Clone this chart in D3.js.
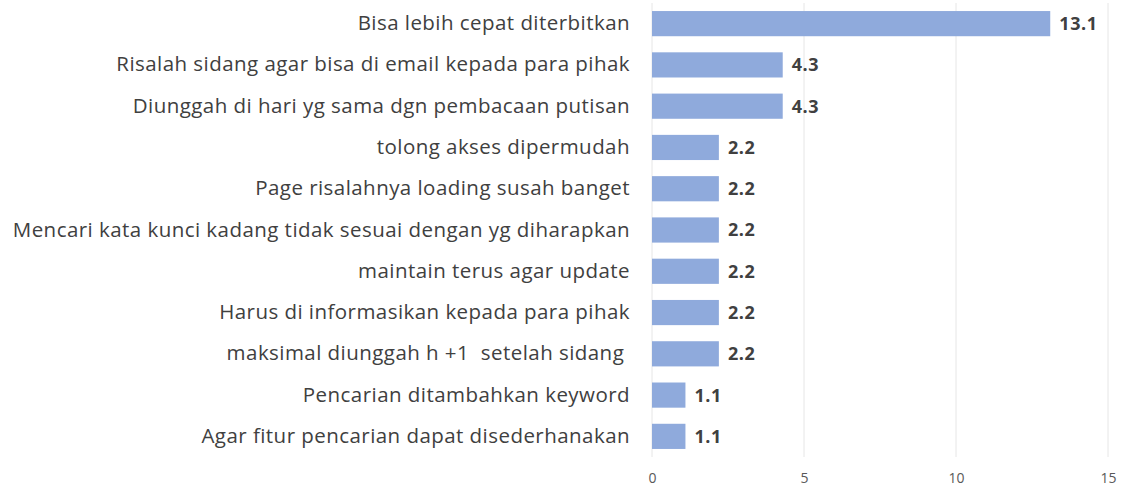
<!DOCTYPE html>
<html>
<head>
<meta charset="utf-8">
<script src="https://cdn.jsdelivr.net/npm/d3@7"></script>
<style>
  body { margin: 0; background: #fff; }
  svg { display: block; }
</style>
</head>
<body>
<div class="chart"></div>
<script>
// data
var categories = [
  "Bisa lebih cepat diterbitkan",
  "Risalah sidang agar bisa di email kepada para pihak",
  "Diunggah di hari yg sama dgn pembacaan putisan",
  "tolong akses dipermudah",
  "Page risalahnya loading susah banget",
  "Mencari kata kunci kadang tidak sesuai dengan yg diharapkan",
  "maintain terus agar update",
  "Harus di informasikan kepada para pihak",
  "maksimal diunggah h +1  setelah sidang ",
  "Pencarian ditambahkan keyword",
  "Agar fitur pencarian dapat disederhanakan"
];
var values = [13.1, 4.3, 4.3, 2.2, 2.2, 2.2, 2.2, 2.2, 2.2, 1.1, 1.1];
var xTicks = [0, 5, 10, 15];

var svgWidth = 1124;
var svgHeight = 488;
var margin = { top: 3, right: 16, bottom: 31, left: 652 };
var plotH = 454;

var svg = d3.select(".chart")
  .append("svg")
  .attr("width", svgWidth)
  .attr("height", svgHeight);

var chartGroup = svg.append("g")
  .attr("transform", `translate(${margin.left}, ${margin.top})`);

var xScale = d3.scaleLinear()
  .domain([0, 15])
  .range([0, 456]);

var yScale = d3.scaleBand()
  .domain(categories)
  .range([0, plotH])
  .paddingInner(0.39)
  .paddingOuter(0.195);

var fontFam = "'Open Sans', sans-serif";

// gridlines
chartGroup.selectAll(".grid")
  .data(xTicks)
  .enter()
  .append("line")
  .attr("x1", d => xScale(d))
  .attr("x2", d => xScale(d))
  .attr("y1", 0)
  .attr("y2", plotH)
  .attr("stroke", "#e6e6e6")
  .attr("stroke-width", 1);

// bars
chartGroup.selectAll("rect")
  .data(values)
  .enter()
  .append("rect")
  .attr("x", xScale(0))
  .attr("y", (d, i) => yScale(categories[i]))
  .attr("width", d => xScale(d) - xScale(0))
  .attr("height", yScale.bandwidth())
  .attr("fill", "#8faadc");

// value labels
chartGroup.selectAll(".val")
  .data(values)
  .enter()
  .append("text")
  .attr("x", d => xScale(d) + 9)
  .attr("y", (d, i) => yScale(categories[i]) + yScale.bandwidth() / 2)
  .attr("dy", "0.36em")
  .attr("font-family", fontFam)
  .attr("font-weight", "bold")
  .attr("font-size", "18px")
  .attr("letter-spacing", "0.6px")
  .attr("fill", "#404040")
  .text(d => d.toFixed(1));

// category labels
var leftAxis = d3.axisLeft(yScale).tickSize(0).tickPadding(22);
var yAxisG = chartGroup.append("g").call(leftAxis);
yAxisG.select(".domain").remove();
yAxisG.selectAll("text")
  .attr("font-family", fontFam)
  .attr("font-size", "20.5px")
  .attr("letter-spacing", "0.45px")
  .attr("fill", "#404040")
  .style("white-space", "pre");

// x axis
var bottomAxis = d3.axisBottom(xScale).tickValues(xTicks).tickSize(0).tickPadding(16);
var xAxisG = chartGroup.append("g")
  .attr("transform", `translate(0, ${plotH})`)
  .call(bottomAxis);
xAxisG.select(".domain").remove();
xAxisG.selectAll("text")
  .attr("font-family", fontFam)
  .attr("font-size", "14px")
  .attr("fill", "#595959");
</script>
</body>
</html>
